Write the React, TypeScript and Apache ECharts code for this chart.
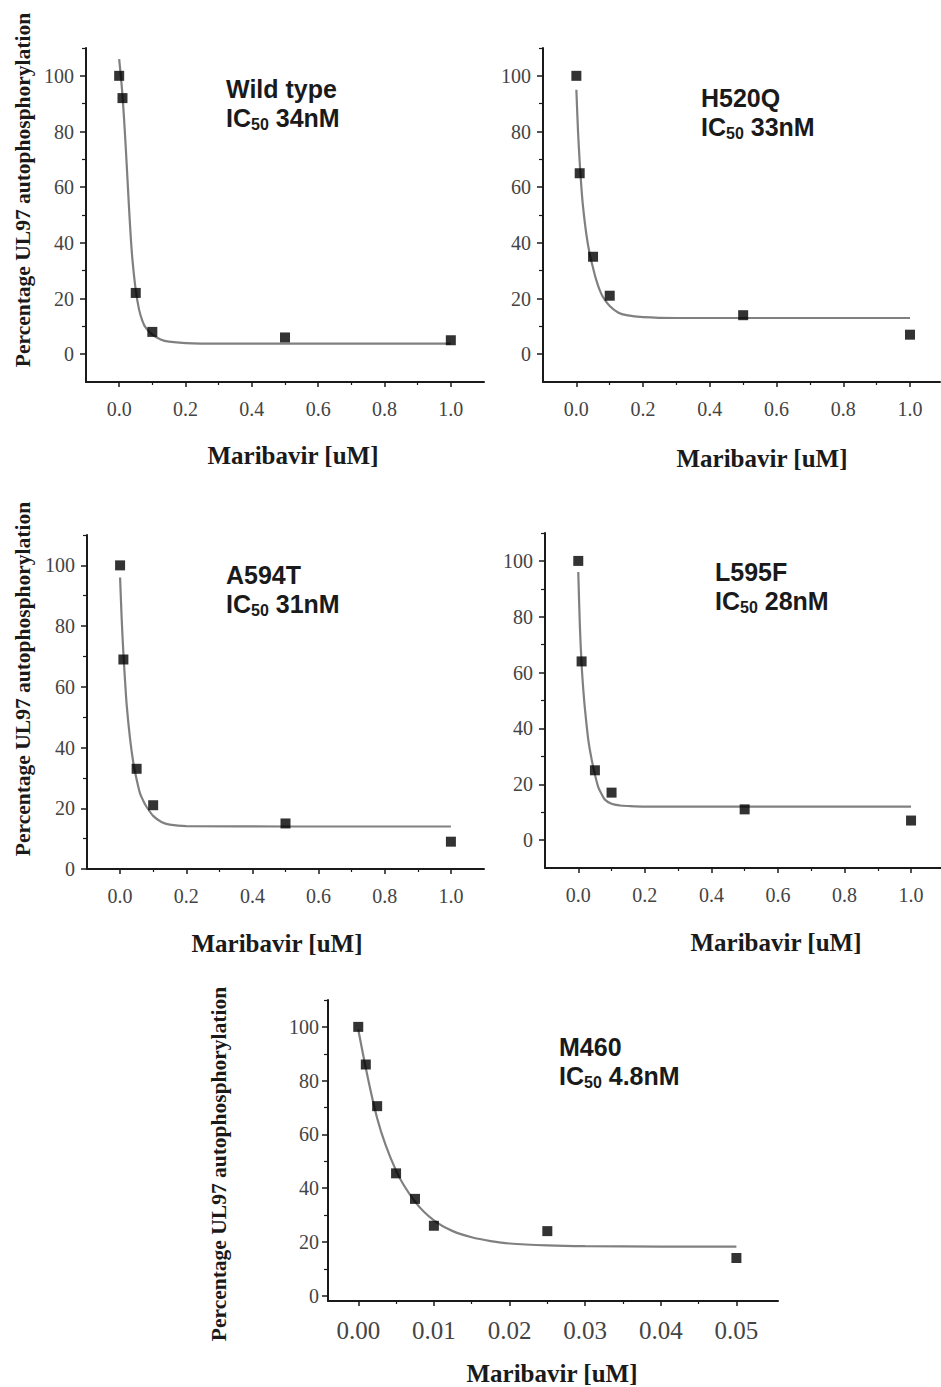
import React, { useEffect, useRef } from "react";
import * as echarts from "echarts";

// ---------- text ----------
const panelNames = ["Wild type", "H520Q", "A594T", "L595F", "M460"];
const ic50Values = ["34nM", "33nM", "31nM", "28nM", "4.8nM"];
const xAxisTitle = "Maribavir [uM]";
const yAxisTitle = "Percentage UL97 autophosphorylation";

// ---------- measured points ----------
const doseX = [0, 0.01, 0.05, 0.1, 0.5, 1.0];
const doseXM460 = [0, 0.001, 0.0025, 0.005, 0.0075, 0.01, 0.025, 0.05];

const wtValues = [100, 92, 22, 8, 6, 5];
const h520qValues = [100, 65, 35, 21, 14, 7];
const a594tValues = [100, 69, 33, 21, 15, 9];
const l595fValues = [100, 64, 25, 17, 11, 7];
const m460Values = [100, 86, 70.5, 45.5, 36, 26, 24, 14];

// ---------- fitted curves ([x, y]) ----------
const wtCurve = [
  [0, 106], [0.005, 100], [0.01, 93], [0.015, 84], [0.02, 74], [0.025, 63],
  [0.03, 52], [0.035, 42], [0.04, 34], [0.05, 23], [0.06, 16], [0.07, 12],
  [0.08, 9.5], [0.1, 7], [0.125, 5.3], [0.15, 4.5], [0.2, 4], [0.3, 3.8],
  [0.5, 3.8], [1.0, 3.8],
];
const h520qCurve = [
  [0, 95], [0.005, 80], [0.01, 69], [0.015, 60], [0.02, 53], [0.03, 43],
  [0.04, 36], [0.05, 31], [0.06, 26.5], [0.07, 23], [0.08, 20.5], [0.1, 17.3],
  [0.125, 15], [0.15, 14], [0.2, 13.3], [0.3, 13], [0.5, 13], [1.0, 13],
];
const a594tCurve = [
  [0, 96], [0.005, 82], [0.01, 71], [0.015, 62], [0.02, 54], [0.03, 43],
  [0.04, 35], [0.05, 29.5], [0.06, 25], [0.07, 22.5], [0.08, 20.5], [0.1, 17.5],
  [0.125, 15.5], [0.15, 14.6], [0.2, 14.1], [0.5, 14], [1.0, 14],
];
const l595fCurve = [
  [0, 96], [0.005, 76], [0.01, 63], [0.015, 54], [0.02, 47], [0.03, 36],
  [0.04, 29], [0.05, 23.5], [0.06, 19], [0.07, 16.5], [0.08, 14.5], [0.1, 13],
  [0.125, 12.4], [0.15, 12.2], [0.2, 12], [0.5, 12], [1.0, 12],
];
const m460Curve = [
  [0, 99], [0.0025, 66], [0.005, 46.5], [0.0075, 35], [0.01, 28],
  [0.0125, 24], [0.015, 21.7], [0.0175, 20.3], [0.02, 19.4], [0.025, 18.7],
  [0.03, 18.4], [0.04, 18.25], [0.05, 18.2],
];

// ---------- ticks ----------
const xTickLabels = [0, 0.2, 0.4, 0.6, 0.8, 1.0];
const xMinorTicks = [0.1, 0.3, 0.5, 0.7, 0.9];
const xTickLabelsM460 = [0, 0.01, 0.02, 0.03, 0.04, 0.05];
const xMinorTicksM460 = [0.005, 0.015, 0.025, 0.035, 0.045];
const yTickLabels = [0, 20, 40, 60, 80, 100];
const yMinorTicks = [10, 30, 50, 70, 90, 110];

// ---------- layout (pixels) ----------
const layouts = [
  { left: 86, top: 48, width: 398, height: 334, xMin: -0.1, xMax: 1.1, yMin: -10, yMax: 110,
    digits: 1, xFont: 20, xMargin: 17, yMargin: 12, inset: [226, 74], xTitle: [293, 455], yTitle: [22.5, 190] },
  { left: 543, top: 48, width: 397, height: 334, xMin: -0.1, xMax: 1.09, yMin: -10, yMax: 110,
    digits: 1, xFont: 20, xMargin: 17, yMargin: 12, inset: [701, 83], xTitle: [762, 458], yTitle: null },
  { left: 87, top: 535, width: 397, height: 334, xMin: -0.1, xMax: 1.1, yMin: 0, yMax: 110,
    digits: 1, xFont: 20, xMargin: 17, yMargin: 12, inset: [226, 560], xTitle: [277, 943], yTitle: [22.5, 679] },
  { left: 545, top: 533, width: 396, height: 335, xMin: -0.1, xMax: 1.09, yMin: -10, yMax: 110,
    digits: 1, xFont: 20, xMargin: 17, yMargin: 12, inset: [715, 557], xTitle: [776, 942], yTitle: null },
  { left: 328, top: 1000, width: 450, height: 301, xMin: -0.004, xMax: 0.0555, yMin: -2, yMax: 110,
    digits: 2, xFont: 25, xMargin: 17, yMargin: 9, inset: [559, 1032], xTitle: [552, 1373], yTitle: [219, 1164] },
];

const panelPoints = [
  { xs: doseX, ys: wtValues, curve: wtCurve },
  { xs: doseX, ys: h520qValues, curve: h520qCurve },
  { xs: doseX, ys: a594tValues, curve: a594tCurve },
  { xs: doseX, ys: l595fValues, curve: l595fCurve },
  { xs: doseXM460, ys: m460Values, curve: m460Curve },
];

const AXIS_COLOR = "#1a1a1a";
const LABEL_COLOR = "#444";
const SERIF = "'Liberation Serif', 'Times New Roman', serif";
const SANS = "'Liberation Sans', Arial, sans-serif";

function buildOption() {
  const grid: any[] = [];
  const xAxis: any[] = [];
  const yAxis: any[] = [];
  const series: any[] = [];
  const graphic: any[] = [];

  layouts.forEach((L, i) => {
    grid.push({ left: L.left, top: L.top, width: L.width, height: L.height, containLabel: false });
    const isM = i === 4;
    const xMajor = isM ? xTickLabelsM460 : xTickLabels;
    const xMinor = isM ? xMinorTicksM460 : xMinorTicks;

    // main x
    xAxis.push({
      type: "value", gridIndex: i, min: L.xMin, max: L.xMax, position: "bottom",
      axisLine: { show: true, onZero: false, lineStyle: { color: AXIS_COLOR, width: 2 } },
      axisTick: { show: true, inside: false, length: 5, customValues: xMajor, lineStyle: { color: AXIS_COLOR, width: 1.5 } },
      axisLabel: {
        show: true, customValues: xMajor, formatter: (v: number) => v.toFixed(L.digits),
        color: LABEL_COLOR, fontFamily: SERIF, fontSize: L.xFont, margin: L.xMargin,
      },
      splitLine: { show: false },
    });
    // minor x
    xAxis.push({
      type: "value", gridIndex: i, min: L.xMin, max: L.xMax, position: "bottom", offset: 0,
      axisLine: { show: false, onZero: false },
      axisTick: { show: true, inside: false, length: 3, customValues: xMinor, lineStyle: { color: AXIS_COLOR, width: 1.2 } },
      axisLabel: { show: false },
      splitLine: { show: false },
    });
    // main y
    yAxis.push({
      type: "value", gridIndex: i, min: L.yMin, max: L.yMax, position: "left",
      axisLine: { show: true, onZero: false, lineStyle: { color: AXIS_COLOR, width: 2 } },
      axisTick: { show: true, inside: false, length: 6, customValues: yTickLabels, lineStyle: { color: AXIS_COLOR, width: 1.5 } },
      axisLabel: {
        show: true, customValues: yTickLabels, formatter: (v: number) => String(v),
        color: LABEL_COLOR, fontFamily: SERIF, fontSize: 20, margin: L.yMargin,
      },
      splitLine: { show: false },
    });
    // minor y
    yAxis.push({
      type: "value", gridIndex: i, min: L.yMin, max: L.yMax, position: "left", offset: 0,
      axisLine: { show: false, onZero: false },
      axisTick: { show: true, inside: false, length: 4, customValues: yMinorTicks, lineStyle: { color: AXIS_COLOR, width: 1.2 } },
      axisLabel: { show: false },
      splitLine: { show: false },
    });

    const P = panelPoints[i];
    series.push({
      type: "line", xAxisIndex: i * 2, yAxisIndex: i * 2,
      data: P.curve, showSymbol: false, symbol: "none", smooth: 0.3,
      lineStyle: { color: "#808080", width: 2.2 }, z: 2, silent: true,
    });
    series.push({
      type: "scatter", xAxisIndex: i * 2, yAxisIndex: i * 2,
      data: P.xs.map((x, k) => [x, P.ys[k]]),
      symbol: "rect", symbolSize: 10, itemStyle: { color: "#000" }, z: 3, silent: true,
    });

    // inset label
    graphic.push({
      type: "text", x: L.inset[0], y: L.inset[1], silent: true,
      style: {
        text: `{a|${panelNames[i]}}\n{a|IC}{s|50}{a| ${ic50Values[i]}}`,
        fill: "#1a1a1a",
        align: "left", verticalAlign: "top",
        rich: {
          a: { fontFamily: SANS, fontWeight: "bold", fontSize: 25, lineHeight: 29, fill: "#1a1a1a", verticalAlign: "middle" },
          s: { fontFamily: SANS, fontWeight: "bold", fontSize: 16, lineHeight: 14, fill: "#1a1a1a", verticalAlign: "bottom" },
        },
      },
    });
    // x title
    graphic.push({
      type: "text", x: L.xTitle[0], y: L.xTitle[1], silent: true,
      style: {
        text: xAxisTitle, fill: "#1a1a1a", fontFamily: SERIF, fontWeight: "bold", fontSize: 25,
        align: "center", verticalAlign: "middle",
      },
    });
    if (L.yTitle) {
      graphic.push({
        type: "text", x: L.yTitle[0], y: L.yTitle[1], rotation: Math.PI / 2, silent: true,
        style: {
          text: yAxisTitle, fill: "#1a1a1a", fontFamily: SERIF, fontWeight: "bold", fontSize: 21.5,
          align: "center", verticalAlign: "middle",
        },
      });
    }
  });

  return {
    animation: false,
    backgroundColor: "#ffffff",
    grid, xAxis, yAxis, series, graphic,
  };
}

export default function App() {
  const ref = useRef<HTMLDivElement | null>(null);
  useEffect(() => {
    if (!ref.current) return;
    const chart = echarts.init(ref.current, undefined, { renderer: "svg" });
    chart.setOption(buildOption() as any);
    return () => chart.dispose();
  }, []);
  return (
    <div
      ref={ref}
      style={{ position: "absolute", left: 0, top: 0, width: 941, height: 1387, background: "#fff" }}
    />
  );
}
